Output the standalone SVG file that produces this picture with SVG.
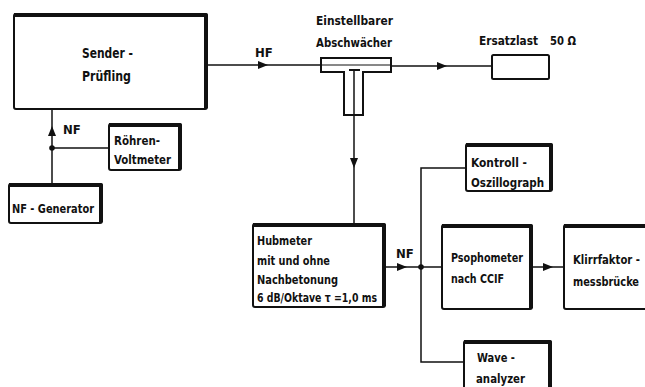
<svg xmlns="http://www.w3.org/2000/svg" width="645" height="387" viewBox="0 0 645 387">
<style>
  .bx{fill:#fff;stroke:#111;stroke-width:2}
  .sh{fill:none;stroke:#111;stroke-width:4;stroke-linejoin:round}
  .ln{fill:none;stroke:#111;stroke-width:1.5}
  .t{font-family:"DejaVu Sans Condensed","DejaVu Sans","Liberation Sans",sans-serif;font-stretch:condensed;font-weight:bold;font-size:13px;fill:#111}
  .tl{font-size:14.5px}
</style>
<defs>
  <marker id="ah" viewBox="0 0 10 8" refX="10" refY="4" markerWidth="10" markerHeight="8" markerUnits="userSpaceOnUse" orient="auto">
    <path d="M0,0 L10,4 L0,8 Z" fill="#111"/>
  </marker>
</defs>
<rect width="645" height="387" fill="#fff"/>

<g id="connectors">
  <line class="ln" x1="208" y1="65" x2="268" y2="65" marker-end="url(#ah)"/>
  <line class="ln" x1="268" y1="65" x2="321" y2="65"/>
  <line class="ln" x1="391" y1="66" x2="447" y2="66" marker-end="url(#ah)"/>
  <line class="ln" x1="447" y1="66" x2="492" y2="66"/>
  <line class="ln" x1="354" y1="115" x2="354" y2="168" marker-end="url(#ah)"/>
  <line class="ln" x1="354" y1="168" x2="354" y2="223"/>
  <line class="ln" x1="52" y1="183" x2="52" y2="126" marker-end="url(#ah)"/>
  <line class="ln" x1="52" y1="126" x2="52" y2="110"/>
  <line class="ln" x1="52" y1="148" x2="108" y2="148"/>
  <circle cx="52" cy="148" r="2.8" fill="#111"/>
  <line class="ln" x1="386" y1="267" x2="407" y2="267" marker-end="url(#ah)"/>
  <line class="ln" x1="407" y1="267" x2="441" y2="267"/>
  <circle cx="421" cy="267" r="2.8" fill="#111"/>
  <path class="ln" d="M465,168 H421 V362 H463"/>
  <line class="ln" x1="533" y1="267" x2="553" y2="267" marker-end="url(#ah)"/>
  <line class="ln" x1="553" y1="267" x2="563" y2="267"/>
  <text class="t" x="255" y="57">HF</text>
  <text class="t" x="63" y="134">NF</text>
  <text class="t" x="396" y="258">NF</text>
</g>

<g id="sender">
  <rect class="bx" x="14" y="14" width="193" height="95" rx="2"/>
  <path class="sh" d="M14,15 H206 V108"/>
  <text class="t tl" x="82" y="58" textLength="51" lengthAdjust="spacingAndGlyphs">Sender -</text>
  <text class="t tl" x="82" y="81" textLength="49" lengthAdjust="spacingAndGlyphs">Prüfling</text>
</g>

<g id="roehren">
  <rect class="bx" x="109" y="124" width="72" height="46" rx="2"/>
  <path class="sh" d="M109,125 H180 V169"/>
  <text class="t" x="114" y="145" textLength="46" lengthAdjust="spacingAndGlyphs">Röhren-</text>
  <text class="t" x="114" y="164" textLength="57" lengthAdjust="spacingAndGlyphs">Voltmeter</text>
</g>

<g id="nfgen">
  <rect class="bx" x="9" y="184" width="93" height="39" rx="2"/>
  <path class="sh" d="M9,185 H101 V222"/>
  <text class="t" x="12" y="213" textLength="82" lengthAdjust="spacingAndGlyphs">NF - Generator</text>
</g>

<g id="abschwaecher">
  <path class="bx" d="M321,58 H391 V72 H363 V115 H344 V72 H321 Z"/>
  <line stroke="#111" stroke-width="1" x1="321" y1="65" x2="391" y2="65"/>
  <line stroke="#111" stroke-width="2" x1="349" y1="70" x2="360" y2="70"/>
  <line class="ln" x1="354" y1="70" x2="354" y2="115"/>
  <text class="t" x="316" y="25" textLength="77" lengthAdjust="spacingAndGlyphs">Einstellbarer</text>
  <text class="t" x="316" y="47" textLength="76" lengthAdjust="spacingAndGlyphs">Abschwächer</text>
</g>

<g id="ersatzlast">
  <rect class="bx" x="492" y="55" width="57" height="24" rx="1.5"/>
  <text class="t" x="479" y="45" textLength="59" lengthAdjust="spacingAndGlyphs">Ersatzlast</text>
  <text class="t" x="550" y="45" textLength="26" lengthAdjust="spacingAndGlyphs">50 Ω</text>
</g>

<g id="hubmeter">
  <rect class="bx" x="253" y="224" width="132" height="83" rx="2"/>
  <path class="sh" d="M253,225 H384 V306"/>
  <text class="t" x="257" y="245" textLength="55" lengthAdjust="spacingAndGlyphs">Hubmeter</text>
  <text class="t" x="257" y="265" textLength="73" lengthAdjust="spacingAndGlyphs">mit  und  ohne</text>
  <text class="t" x="257" y="284" textLength="81" lengthAdjust="spacingAndGlyphs">Nachbetonung</text>
  <text class="t" x="257" y="302" textLength="120" lengthAdjust="spacingAndGlyphs">6 dB/Oktave τ =1,0 ms</text>
</g>

<g id="kontroll">
  <rect class="bx" x="466" y="144" width="86" height="47" rx="2"/>
  <path class="sh" d="M466,145 H551 V190"/>
  <text class="t" x="471" y="167" textLength="56" lengthAdjust="spacingAndGlyphs">Kontroll -</text>
  <text class="t" x="471" y="187" textLength="73" lengthAdjust="spacingAndGlyphs">Oszillograph</text>
</g>

<g id="psophometer">
  <rect class="bx" x="442" y="225" width="90" height="84" rx="2"/>
  <path class="sh" d="M442,226 H531 V308"/>
  <text class="t" x="451" y="262" textLength="72" lengthAdjust="spacingAndGlyphs">Psophometer</text>
  <text class="t" x="451" y="283" textLength="53" lengthAdjust="spacingAndGlyphs">nach  CCIF</text>
</g>

<g id="klirrfaktor">
  <rect class="bx" x="564" y="225" width="90" height="84" rx="2"/>
  <path class="sh" d="M564,226 H660"/>
  <text class="t" x="573" y="264" textLength="67" lengthAdjust="spacingAndGlyphs">Klirrfaktor -</text>
  <text class="t" x="573" y="286" textLength="66" lengthAdjust="spacingAndGlyphs">messbrücke</text>
</g>

<g id="wave">
  <rect class="bx" x="464" y="341" width="87" height="60" rx="2"/>
  <path class="sh" d="M464,342 H550 V400"/>
  <text class="t" x="477" y="362" textLength="38" lengthAdjust="spacingAndGlyphs">Wave -</text>
  <text class="t" x="476" y="383" textLength="49" lengthAdjust="spacingAndGlyphs">analyzer</text>
</g>
</svg>
